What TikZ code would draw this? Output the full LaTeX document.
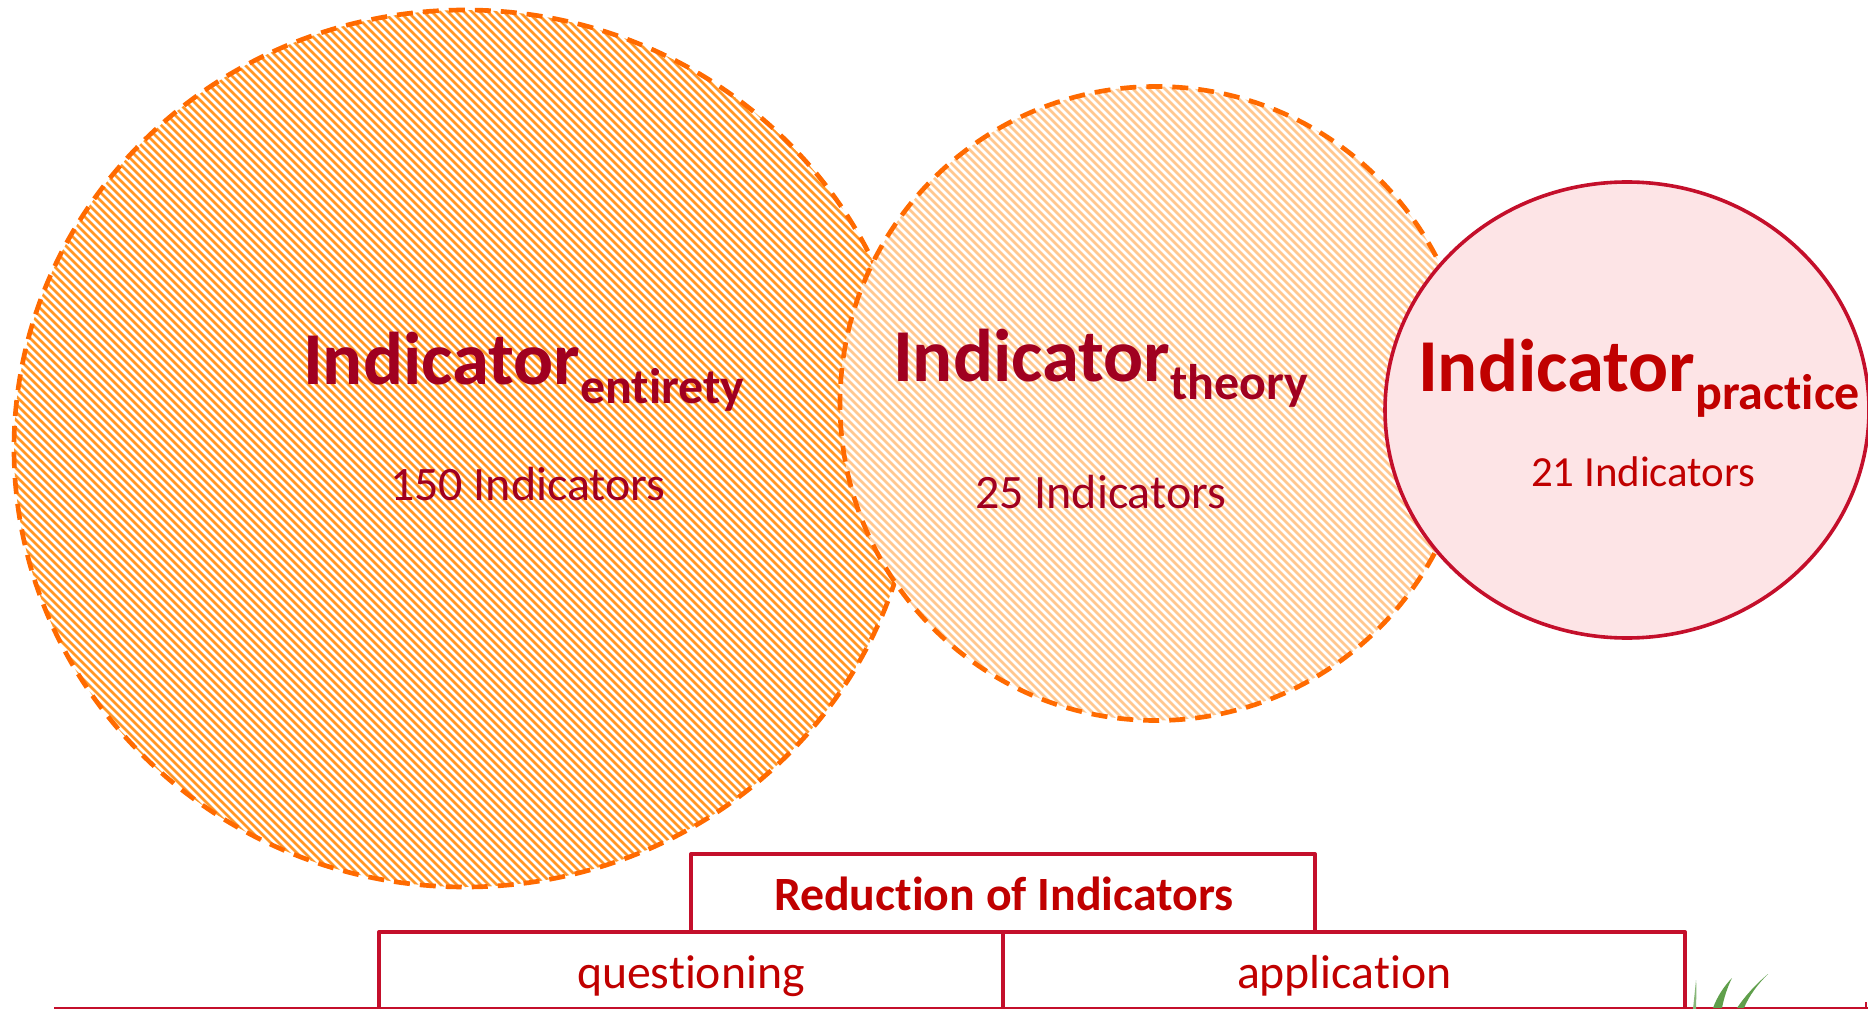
\documentclass[tikz,border=0pt]{standalone}
\usepackage{fontspec}
\setmainfont[Ligatures={NoCommon,NoRare,NoContextual},RawFeature={-liga;-clig;-dlig;-calt}]{Carlito}
\definecolor{dashorange}{HTML}{FF6A00}
\definecolor{hatchdark}{HTML}{FF9626}
\definecolor{hatchlight}{HTML}{FFC78F}
\definecolor{framered}{HTML}{C40F2B}
\definecolor{pinkfill}{HTML}{FDE4E6}
\definecolor{textred}{HTML}{C00000}
\definecolor{textdeep}{HTML}{A00020}
\definecolor{bladegreen}{HTML}{5F9F4B}
\newcommand{\mainsub}[1]{{\fontsize{56}{60}\selectfont\bfseries Indicator\raisebox{-13.5pt}{\fontsize{37.5}{40}\selectfont #1}}}
\tikzset{
  lbl/.style={anchor=base west,inner sep=0pt,outer sep=0pt},
  dashring/.style={draw=dashorange,line width=3.5pt,dash pattern=on 12pt off 7.5pt},
  boxline/.style={draw=framered,line width=3pt,line join=round},
  hatchline/.style={line width=2.1pt}
}
\begin{document}
\begin{tikzpicture}[x=0.75pt,y=-0.75pt]
\useasboundingbox (0,0) rectangle (1868,1009);
\fill[white] (0,0) rectangle (1868,1009);
% large circle
\begin{scope}
  \clip (465,448.5) ellipse [x radius=451,y radius=438.5];
  \fill[white] (0,0) rectangle (1000,1009);
  \foreach \k in {-900,-892,...,1000}
    \draw[hatchline,hatchdark] (0,\k) -- (1000,\k+1000);
\end{scope}
\draw[dashring] (465,448.5) ellipse [x radius=451,y radius=438.5];
% middle circle
\begin{scope}
  \clip (1156,403.5) ellipse [x radius=316,y radius=317];
  \fill[white] (800,50) rectangle (1500,750);
  \foreach \k in {-1500,-1492,...,0}
    \draw[hatchline,hatchlight] (800,\k+800) -- (1500,\k+1500);
\end{scope}
\draw[dashring] (1156,403.5) ellipse [x radius=316,y radius=317];
% right circle
\draw[draw=framered,line width=2.7pt,fill=pinkfill] (1627,410) ellipse [x radius=242,y radius=228];
% boxes
\draw[boxline] (691,932) -- (691,854) -- (1315,854) -- (1315,932);
\draw[boxline] (379,1009) -- (379,932) -- (1685,932) -- (1685,1009);
\draw[boxline] (1003,932) -- (1003,1009);
\draw[draw=framered,line width=1.4pt] (54,1008.4) -- (1868,1008.4);
\draw[draw=framered,line width=1.4pt] (1866,1002) -- (1866,1008);
% grass
\fill[bladegreen!75] (1693,1009) .. controls (1694,1000) and (1695,990) .. (1696,980) .. controls (1697,990) and (1696,1000) .. (1696,1009) -- cycle;
\fill[bladegreen] (1713,1008) .. controls (1717,997) and (1724,986) .. (1732,978) .. controls (1727,988) and (1724,998) .. (1722,1008) -- cycle;
\fill[bladegreen] (1737,1008) .. controls (1745,996) and (1756,984) .. (1768,974) .. controls (1757,985) and (1749,996) .. (1744,1008) -- cycle;
% text
\node[lbl,text=textdeep] (entirety) at (303,385) {\mainsub{entirety}};
\node[lbl,text=textdeep] (theory) at (893,382) {\mainsub{theory}};
\node[lbl,text=textred] (practice) at (1418,392) {\mainsub{practice}};
\node[lbl,text=textdeep,font=\fontsize{36}{40}\selectfont] (n150) at (390,500) {150 Indicators};
\node[lbl,text=textdeep,font=\fontsize{36}{40}\selectfont] (n25) at (975,508) {25 Indicators};
\node[lbl,text=textred,font=\fontsize{32.2}{36}\selectfont] (n21) at (1531,486) {21 Indicators};
\node[lbl,text=textred,font=\fontsize{35.85}{40}\selectfont\bfseries] (reduction) at (774,910) {Reduction of Indicators};
\node[lbl,text=textred,font=\fontsize{35.8}{40}\selectfont] (questioning) at (577,988) {questioning};
\node[lbl,text=textred,font=\fontsize{35.8}{40}\selectfont] (application) at (1237,988) {application};
\end{tikzpicture}
\end{document}
